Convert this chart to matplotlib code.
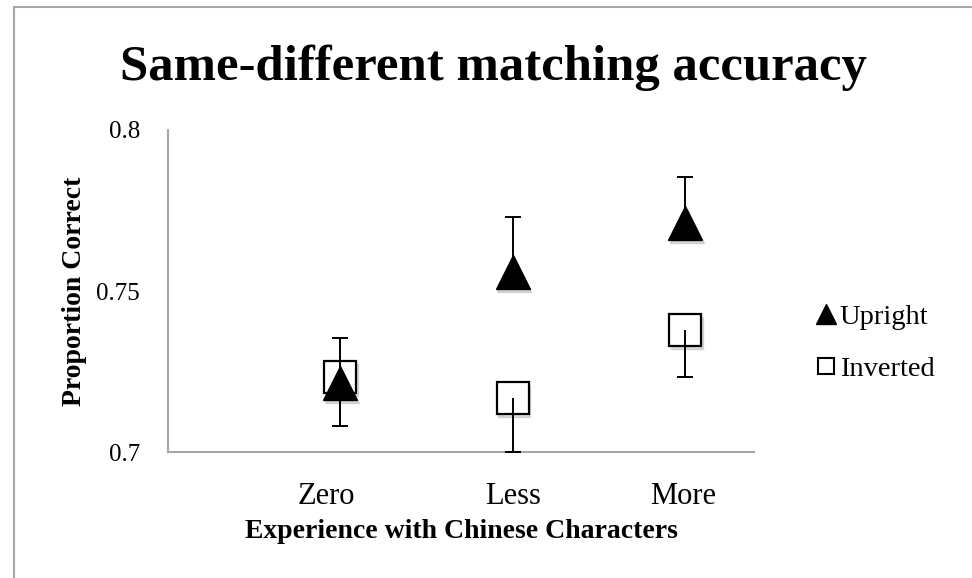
import numpy as np
import matplotlib
matplotlib.use('Agg')
import matplotlib.pyplot as plt
from matplotlib.lines import Line2D
from matplotlib.patches import Rectangle
import matplotlib.transforms as mtransforms

# data
groups = ['Zero', 'Less', 'More']
upright = np.array([0.7214, 0.7559, 0.7710])
upright_err = np.array([0.0141, 0.0170, 0.0145])
inverted = np.array([0.7234, 0.7168, 0.7378])
inverted_err = np.array([0.0153, 0.0167, 0.0146])

x = np.arange(1, len(groups) + 1)
serif = ['Liberation Serif', 'DejaVu Serif']
axcol = '#a6a6a6'

fig = plt.figure(figsize=(9.72, 5.78), dpi=100)
ax = fig.add_axes([168/972, 1-452/578, (754-168)/972, (452-130)/578])

# outer frame of the chart area
fig.patches.append(Rectangle((14/972, -0.1), 1.2, 1-7/578+0.1, transform=fig.transFigure,
                             fill=False, edgecolor=axcol, lw=1.5))

# soft shadow under markers
shadow = mtransforms.offset_copy(ax.transData, fig=fig, x=1.5, y=-3, units='dots')
ax.plot(x, upright, '^', ms=24, color='#999999', alpha=0.35, transform=shadow, zorder=1)
ax.plot(x, inverted, 's', ms=23, color='#999999', alpha=0.35, transform=shadow, zorder=1)

ax.plot(x, inverted, 's', ms=23, mfc='white', mec='black', mew=1.6, zorder=2)
ax.plot(x, upright, '^', ms=24, color='black', zorder=3)

# one-sided error bars: upright goes up, inverted goes down
ax.vlines(x, upright, upright + upright_err, color='black', lw=1.4, zorder=4)
ax.plot(x, upright + upright_err, '_', color='black', ms=11.5, mew=1.4, zorder=4)
ax.vlines(x, inverted - inverted_err, inverted, color='black', lw=1.4, zorder=4)
ax.plot(x, inverted - inverted_err, '_', color='black', ms=11.5, mew=1.4, zorder=4)

ax.set_xlim(0, 3.4)
ax.set_ylim(0.7, 0.8)
ax.set_yticks([0.7, 0.75, 0.8])
ax.set_yticklabels(['0.7', '0.75', '0.8'])
ax.set_xticks(x)
ax.set_xticklabels([])
ax.tick_params(length=0, labelsize=18)
ax.tick_params(axis='y', pad=20)
for lab in ax.get_yticklabels():
    lab.set_family(serif)

# category labels (the first one sits a bit left of its marker in the original)
shifts = [-14, 0, -2]
for xi, name, dx in zip(x, groups, shifts):
    tr = ax.get_xaxis_transform() + mtransforms.ScaledTranslation(dx/100, -30/100, fig.dpi_scale_trans)
    ax.text(xi, 0, name, transform=tr, ha='center', va='top', family=serif, fontsize=22)

for s in ['top', 'right']:
    ax.spines[s].set_visible(False)
for s in ['left', 'bottom']:
    ax.spines[s].set_color(axcol)
    ax.spines[s].set_linewidth(1.5)

fig.text((243+680)/2/972, 1-538/578, 'Experience with Chinese Characters', ha='center',
         va='baseline', family=serif, fontsize=20, fontweight='bold')
ax.set_ylabel('Proportion Correct', family=serif, fontsize=20, fontweight='bold', labelpad=7)

fig.text(493/972, 1-80/578, 'Same-different matching accuracy', ha='center', va='baseline',
         family=serif, fontsize=36.5, fontweight='bold')

handles = [Line2D([], [], marker='^', ls='none', color='black', ms=14),
           Line2D([], [], marker='s', ls='none', mfc='white', mec='black', mew=1.5, ms=12)]
fig.legend(handles, ['Upright', 'Inverted'], loc='center left',
           bbox_to_anchor=(790/972, 1-343/578), frameon=False, handlelength=0.7,
           handletextpad=0.15, labelspacing=0.93, prop={'family': serif, 'size': 20.5})

fig.savefig('out.png', dpi=100)
